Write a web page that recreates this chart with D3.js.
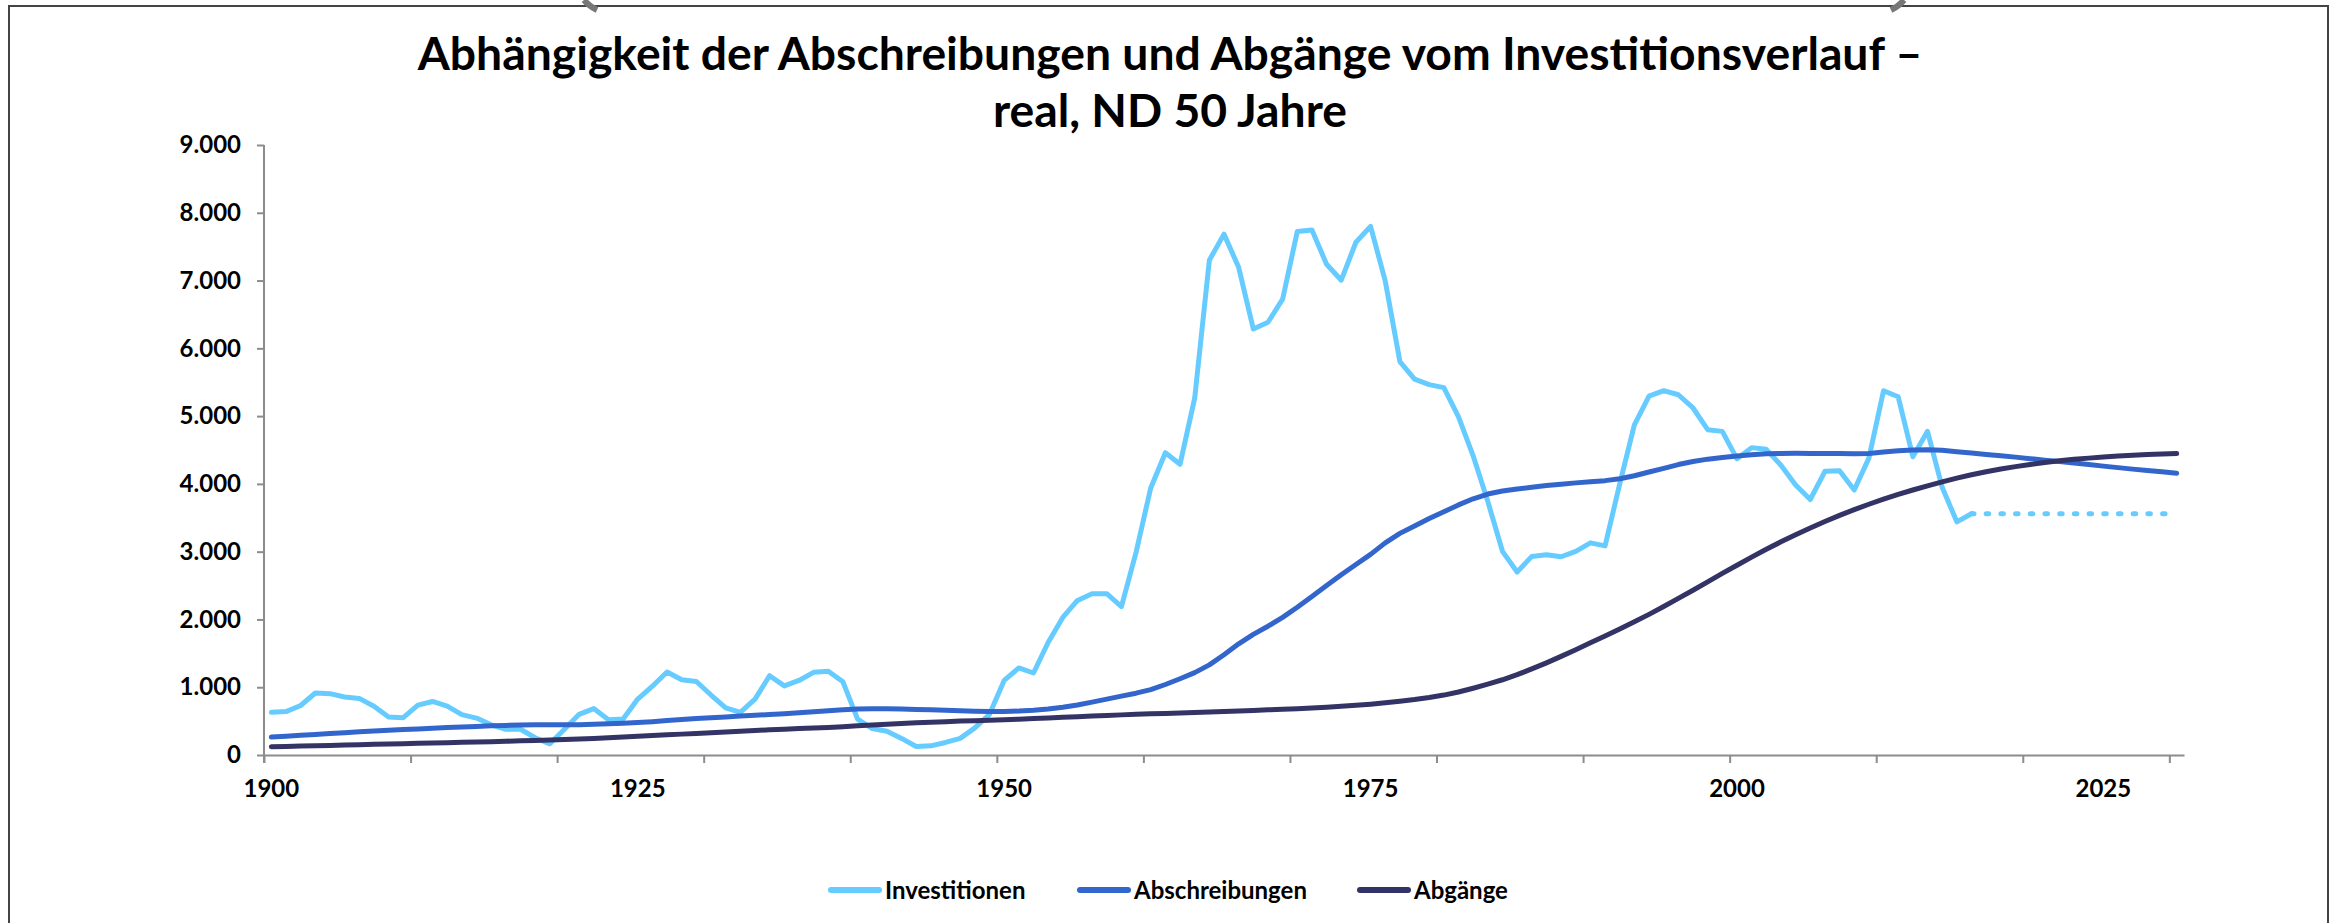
<!DOCTYPE html>
<html>
<head>
<meta charset="utf-8">
<script src="https://cdn.jsdelivr.net/npm/d3@7"></script>
<style>
  body { margin: 0; background: #fff; }
  text { font-family: Lato, "Open Sans", sans-serif; font-weight: 700; fill: #000; }
</style>
</head>
<body>
<svg width="2336" height="923"></svg>
<script>
// years 1900..2030 (categories)
var years = d3.range(1900, 2031);

// Investitionen, real, 1900..2016
var invest = [
  630, 640, 730, 915, 905, 855, 835, 720, 560, 550,
  735, 790, 720, 595, 545, 445, 380, 380, 255, 165,
  380, 600, 685, 520, 530, 825, 1015, 1225, 1110, 1085,
  885, 695, 630, 825, 1170, 1020, 1100, 1220, 1235, 1080,
  530, 390, 350, 245, 125, 135, 185, 245, 400, 600,
  1100, 1285, 1210, 1660, 2030, 2280, 2380, 2380, 2190, 2990,
  3940, 4460, 4290, 5265, 7300, 7685, 7195, 6285, 6385, 6725,
  7725, 7745, 7240, 7005, 7565, 7800, 6995, 5805, 5545, 5465,
  5420, 4990, 4415, 3740, 3005, 2700, 2930, 2955, 2925, 3005,
  3130, 3085, 4000, 4870, 5295, 5375, 5315, 5120, 4800, 4775,
  4370, 4535, 4510, 4275, 3985, 3770, 4185, 4195, 3910, 4380,
  5375, 5285, 4400, 4775, 3950, 3440, 3560
];

// Fortschreibung (gepunktet), 2016..2030
var investProjYears = [2016, 2017, 2018, 2019, 2020, 2021, 2022, 2023, 2024, 2025, 2026, 2027, 2028, 2029, 2030];
var investProj = [3560, 3560, 3560, 3560, 3560, 3560, 3560, 3560, 3560, 3560, 3560, 3560, 3560, 3560, 3560];

// Abschreibungen 1900..2030
var abschreibungen = [
  265, 278, 291, 304, 317, 330, 342, 353, 364, 375,
  385, 395, 404, 413, 422, 430, 437, 442, 445, 446,
  445, 447, 452, 460, 468, 478, 492, 508, 523, 537,
  550, 562, 574, 585, 597, 610, 624, 638, 652, 666,
  678, 682, 681, 678, 673, 667, 660, 652, 646, 642,
  642, 648, 660, 680, 705, 738, 780, 825, 868, 912,
  965, 1040, 1125, 1215, 1330, 1480, 1640, 1780, 1900, 2030,
  2180, 2340, 2500, 2660, 2810, 2960, 3130, 3270, 3380, 3490,
  3590, 3690, 3780, 3850, 3895, 3925, 3950, 3975, 3995, 4015,
  4030, 4048, 4075, 4120, 4175, 4230, 4285, 4330, 4365, 4390,
  4410, 4430, 4445, 4450, 4452, 4450, 4448, 4447, 4446, 4450,
  4470, 4490, 4500, 4502, 4495, 4475, 4455, 4435, 4415, 4395,
  4372, 4350, 4330, 4308, 4286, 4262, 4240, 4218, 4198, 4178, 4158
];

// Abgänge 1900..2030
var abgaenge = [
  122, 127, 132, 137, 142, 147, 152, 157, 162, 167,
  172, 177, 182, 187, 192, 197, 203, 209, 215, 221,
  228, 235, 245, 256, 267, 278, 288, 298, 308, 318,
  328, 340, 352, 362, 372, 381, 390, 398, 407, 418,
  430, 442, 454, 465, 475, 484, 492, 500, 507, 513,
  520, 528, 537, 546, 556, 566, 575, 584, 592, 600,
  607, 614, 621, 628, 635, 642, 650, 658, 667, 675,
  684, 694, 705, 718, 733, 750, 770, 793, 818, 848,
  884, 930, 985, 1045, 1110, 1185, 1270, 1360, 1455, 1553,
  1655, 1755, 1860, 1965, 2075, 2190, 2310, 2430, 2555, 2680,
  2800, 2920, 3035, 3145, 3250, 3350, 3445, 3535, 3620, 3700,
  3775, 3845, 3910, 3970, 4030, 4085, 4135, 4180, 4220, 4255,
  4287, 4315, 4340, 4362, 4380, 4396, 4410, 4422, 4432, 4440, 4447
];

var yTicks = [0, 1000, 2000, 3000, 4000, 5000, 6000, 7000, 8000, 9000];
var xTickYears = d3.range(1900, 2031, 10);
var xLabelYears = [1900, 1925, 1950, 1975, 2000, 2025];

var seriesNames = ["Investitionen", "Abschreibungen", "Abgänge"];
var colors = ["#66ccff", "#3366cc", "#333366"];

var svg = d3.select("svg"),
  margin = { top: 145, right: 152, bottom: 168, left: 264 },
  width = +svg.attr("width") - margin.left - margin.right,
  height = +svg.attr("height") - margin.top - margin.bottom;

var de = d3.formatLocale({ decimal: ",", thousands: ".", grouping: [3], currency: ["", " €"] });

// frame
svg.append("path")
  .attr("d", "M9,923 L9,6 L2328,6 L2328,923")
  .attr("fill", "none")
  .attr("stroke", "#444")
  .attr("stroke-width", 2);

// two grey stubs sticking in at the top edge
svg.append("path")
  .attr("d", "M584,0 Q589,6 597,10")
  .attr("fill", "none").attr("stroke", "#777").attr("stroke-width", 6);
svg.append("path")
  .attr("d", "M1904,0 Q1899,6 1891,10")
  .attr("fill", "none").attr("stroke", "#777").attr("stroke-width", 6);

// title
var title = svg.append("text")
  .attr("text-anchor", "middle")
  .style("font-size", "48px");
title.append("tspan").attr("x", 1170).attr("y", 70)
  .text("Abhängigkeit der Abschreibungen und Abgänge vom Investitionsverlauf –");
title.append("tspan").attr("x", 1170).attr("y", 127)
  .text("real, ND 50 Jahre");
// fit the first line to the width seen in the original
var w = title.select("tspan").node().getComputedTextLength();
title.style("font-size", (48 * 1505 / w) + "px");

var x = d3.scaleLinear().domain([1900, 2031]).range([0, width]);
var y = d3.scaleLinear().domain([0, 9000]).range([height, 0]);

var focus = svg.append("g")
  .attr("transform", "translate(" + margin.left + "," + margin.top + ")");

// y axis
var yAxis = focus.append("g")
  .call(d3.axisLeft(y).tickValues(yTicks).tickSize(7).tickSizeOuter(0).tickPadding(16)
    .tickFormat(de.format(",")));
yAxis.select(".domain").attr("d", "M0,0V" + (height + 8));

// x axis: tick marks every 10 years, labels every 25 (centred on the year)
var xAxis = focus.append("g")
  .attr("transform", "translate(0," + height + ")")
  .call(d3.axisBottom(x).tickValues(xTickYears).tickSize(8).tickSizeOuter(0).tickFormat(""));

focus.selectAll(".xlabel")
  .data(xLabelYears)
  .enter()
  .append("text")
  .attr("class", "xlabel")
  .attr("x", function(d) { return x(d + 0.5); })
  .attr("y", height + 42)
  .attr("text-anchor", "middle")
  .style("font-size", "24px")
  .text(function(d) { return d; });

focus.selectAll(".domain, .tick line")
  .attr("stroke", "#8c8c8c")
  .attr("stroke-width", 2);
yAxis.selectAll(".tick text")
  .style("font-size", "24px")
  .attr("fill", "#000");

var line = d3.line()
  .x(function(d) { return x(d[0] + 0.5); })
  .y(function(d) { return y(d[1]); });

var seriesData = [
  invest.map(function(v, i) { return [years[i], v]; }),
  abschreibungen.map(function(v, i) { return [years[i], v]; }),
  abgaenge.map(function(v, i) { return [years[i], v]; })
];

// dotted continuation of Investitionen
focus.append("path")
  .datum(investProj.map(function(v, i) { return [investProjYears[i], v]; }))
  .attr("fill", "none")
  .attr("stroke", colors[0])
  .attr("stroke-width", 5)
  .attr("stroke-linecap", "round")
  .attr("stroke-dasharray", "2.5,12.2")
  .attr("d", line);

seriesData.forEach(function(s, i) {
  focus.append("path")
    .datum(s)
    .attr("fill", "none")
    .attr("stroke", colors[i])
    .attr("stroke-linejoin", "round")
    .attr("stroke-linecap", "round")
    .attr("stroke-width", 5)
    .attr("d", line);
});

// legend
var legendX = [829, 1078, 1358];
var legend = svg.selectAll(".legend")
  .data(seriesNames)
  .enter()
  .append("g")
  .attr("class", "legend")
  .attr("transform", function(d, i) { return "translate(" + legendX[i] + ",890)"; });

legend.append("line")
  .attr("x1", 2).attr("x2", 50)
  .attr("stroke", function(d, i) { return colors[i]; })
  .attr("stroke-width", 6)
  .attr("stroke-linecap", "round");

legend.append("text")
  .attr("x", 56)
  .attr("y", 8.5)
  .style("font-size", "24px")
  .text(function(d) { return d; });
</script>
</body>
</html>
